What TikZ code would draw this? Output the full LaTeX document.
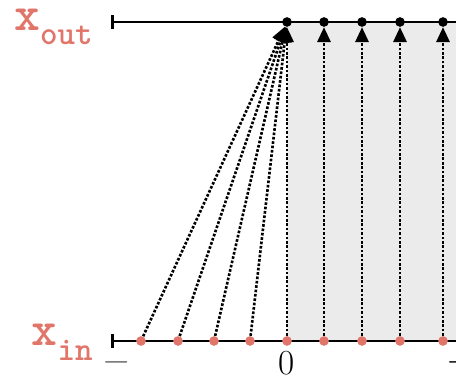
\documentclass[tikz,border=0pt]{standalone}
\usepackage{amsmath, amssymb}
\usepackage{fontspec}
\usepackage{tikz}
\usepackage{xcolor}
\usetikzlibrary{arrows.meta}
\definecolor{salmon}{HTML}{E2756A}
\definecolor{bandgray}{HTML}{EBEBEB}
\newcommand{\seqlabel}[1]{\ttfamily\bfseries x\raisebox{-0.3em}{\fontsize{19}{21}\selectfont #1}}
\tikzset{
  axis/.style={line width=1.6pt},
  indot/.style={circle,fill=salmon,inner sep=0pt,minimum size=5.5pt},
  outdot/.style={circle,fill=black,inner sep=0pt,minimum size=5.5pt},
  link/.style={densely dotted,line width=1.5pt,-{Triangle[length=8.5pt,width=7.5pt]}},
  seqname/.style={text=salmon,font=\fontsize{28}{30}\selectfont,inner sep=0pt},
  ticklabel/.style={font=\fontsize{20}{22}\selectfont,inner sep=0pt},
}

\begin{document}
\begin{tikzpicture}[x=0.02cm,y=-0.02cm]
    \useasboundingbox (0,0) rectangle (456,377);
    \fill [bandgray] (287,22) rectangle (470,341);
    \coordinate (outstart) at (111,22);
    \coordinate (outend) at (470,22);
    \coordinate (instart) at (111,341);
    \coordinate (inend) at (470,341);
    \draw [axis,{Bar[width=8pt]}-] (outstart) -- (outend);
    \draw [axis,{Bar[width=8pt]}-] (instart) -- (inend);
    \node [seqname,anchor=east] (xout) at (93,27) {\seqlabel{out}};
    \node [seqname,anchor=east] (xin) at (93,342) {\seqlabel{in}};
    \foreach \x [count=\i] in {141,178,214,250,287,324,362,400,443}{
      \node [indot] (in\i) at (\x,341) {};
    }
    \foreach \x [count=\i from 5] in {287,324,362,400,443}{
      \node [outdot] (out\i) at (\x,22) {};
    }
    \foreach \i in {1,...,4}{
      \draw [link] (in\i) -- (out5);
    }
    \foreach \i in {5,...,9}{
      \draw [link] (in\i) -- (out\i);
    }
    \node [ticklabel,text=black!60] (lo) at (117,362) {$-$};
    \node [ticklabel] (zero) at (287,363) {0};
    \node [ticklabel,anchor=west] (hi) at (446,362) {$-$};
  \end{tikzpicture}
\end{document}
